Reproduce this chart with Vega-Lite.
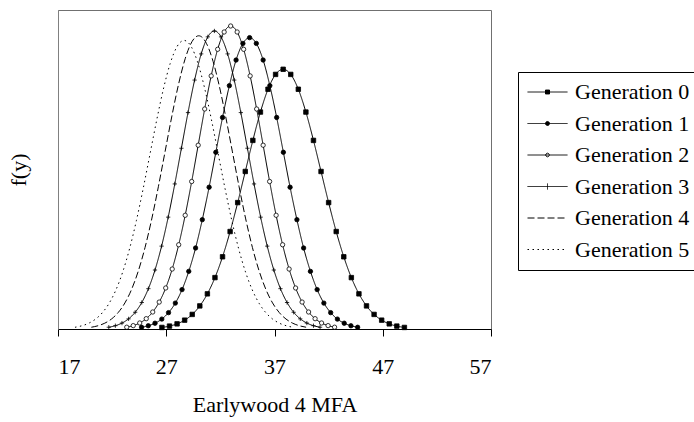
{
  "$schema": "https://vega.github.io/schema/vega-lite/v6.json",
  "width": 433,
  "height": 319,
  "autosize": "none",
  "padding": {"left": 58, "top": 10, "right": 203, "bottom": 93},
  "background": "white",
  "config": {
    "font": "Liberation Serif",
    "view": {"stroke": "#707070", "strokeWidth": 1},
    "axis": {
      "grid": false,
      "labelFont": "Liberation Serif",
      "labelFontSize": 22,
      "labelColor": "black",
      "titleFont": "Liberation Serif",
      "titleFontSize": 22,
      "titleFontWeight": "normal",
      "titleColor": "black"
    }
  },
  "datasets": {
    "curves": [
      {"gen": "Generation 0", "mfa": 26.6, "fy": 0.00068},
      {"gen": "Generation 0", "mfa": 27.3, "fy": 0.00127},
      {"gen": "Generation 0", "mfa": 28.0, "fy": 0.00226},
      {"gen": "Generation 0", "mfa": 28.7, "fy": 0.00388},
      {"gen": "Generation 0", "mfa": 29.4, "fy": 0.0064},
      {"gen": "Generation 0", "mfa": 30.1, "fy": 0.01014},
      {"gen": "Generation 0", "mfa": 30.8, "fy": 0.01543},
      {"gen": "Generation 0", "mfa": 31.5, "fy": 0.02256},
      {"gen": "Generation 0", "mfa": 32.2, "fy": 0.03169},
      {"gen": "Generation 0", "mfa": 32.9, "fy": 0.04278},
      {"gen": "Generation 0", "mfa": 33.6, "fy": 0.05548},
      {"gen": "Generation 0", "mfa": 34.3, "fy": 0.06913},
      {"gen": "Generation 0", "mfa": 35.0, "fy": 0.08277},
      {"gen": "Generation 0", "mfa": 35.7, "fy": 0.09521},
      {"gen": "Generation 0", "mfa": 36.4, "fy": 0.10522},
      {"gen": "Generation 0", "mfa": 37.1, "fy": 0.11173},
      {"gen": "Generation 0", "mfa": 37.8, "fy": 0.11398},
      {"gen": "Generation 0", "mfa": 38.5, "fy": 0.11173},
      {"gen": "Generation 0", "mfa": 39.2, "fy": 0.10522},
      {"gen": "Generation 0", "mfa": 39.9, "fy": 0.09521},
      {"gen": "Generation 0", "mfa": 40.6, "fy": 0.08277},
      {"gen": "Generation 0", "mfa": 41.3, "fy": 0.06913},
      {"gen": "Generation 0", "mfa": 42.0, "fy": 0.05548},
      {"gen": "Generation 0", "mfa": 42.7, "fy": 0.04278},
      {"gen": "Generation 0", "mfa": 43.4, "fy": 0.03169},
      {"gen": "Generation 0", "mfa": 44.1, "fy": 0.02256},
      {"gen": "Generation 0", "mfa": 44.8, "fy": 0.01543},
      {"gen": "Generation 0", "mfa": 45.5, "fy": 0.01014},
      {"gen": "Generation 0", "mfa": 46.2, "fy": 0.0064},
      {"gen": "Generation 0", "mfa": 46.9, "fy": 0.00388},
      {"gen": "Generation 0", "mfa": 47.6, "fy": 0.00226},
      {"gen": "Generation 0", "mfa": 48.3, "fy": 0.00127},
      {"gen": "Generation 0", "mfa": 49.0, "fy": 0.00068},

      {"gen": "Generation 1", "mfa": 24.72, "fy": 0.00076},
      {"gen": "Generation 1", "mfa": 25.34, "fy": 0.00142},
      {"gen": "Generation 1", "mfa": 25.96, "fy": 0.00254},
      {"gen": "Generation 1", "mfa": 26.59, "fy": 0.00435},
      {"gen": "Generation 1", "mfa": 27.21, "fy": 0.00718},
      {"gen": "Generation 1", "mfa": 27.84, "fy": 0.01137},
      {"gen": "Generation 1", "mfa": 28.46, "fy": 0.0173},
      {"gen": "Generation 1", "mfa": 29.08, "fy": 0.0253},
      {"gen": "Generation 1", "mfa": 29.71, "fy": 0.03555},
      {"gen": "Generation 1", "mfa": 30.33, "fy": 0.04799},
      {"gen": "Generation 1", "mfa": 30.96, "fy": 0.06224},
      {"gen": "Generation 1", "mfa": 31.58, "fy": 0.07756},
      {"gen": "Generation 1", "mfa": 32.2, "fy": 0.09285},
      {"gen": "Generation 1", "mfa": 32.83, "fy": 0.1068},
      {"gen": "Generation 1", "mfa": 33.45, "fy": 0.11804},
      {"gen": "Generation 1", "mfa": 34.08, "fy": 0.12533},
      {"gen": "Generation 1", "mfa": 34.7, "fy": 0.12787},
      {"gen": "Generation 1", "mfa": 35.32, "fy": 0.12533},
      {"gen": "Generation 1", "mfa": 35.95, "fy": 0.11804},
      {"gen": "Generation 1", "mfa": 36.57, "fy": 0.1068},
      {"gen": "Generation 1", "mfa": 37.2, "fy": 0.09285},
      {"gen": "Generation 1", "mfa": 37.82, "fy": 0.07756},
      {"gen": "Generation 1", "mfa": 38.44, "fy": 0.06224},
      {"gen": "Generation 1", "mfa": 39.07, "fy": 0.04799},
      {"gen": "Generation 1", "mfa": 39.69, "fy": 0.03555},
      {"gen": "Generation 1", "mfa": 40.32, "fy": 0.0253},
      {"gen": "Generation 1", "mfa": 40.94, "fy": 0.0173},
      {"gen": "Generation 1", "mfa": 41.56, "fy": 0.01137},
      {"gen": "Generation 1", "mfa": 42.19, "fy": 0.00718},
      {"gen": "Generation 1", "mfa": 42.81, "fy": 0.00435},
      {"gen": "Generation 1", "mfa": 43.44, "fy": 0.00254},
      {"gen": "Generation 1", "mfa": 44.06, "fy": 0.00142},
      {"gen": "Generation 1", "mfa": 44.68, "fy": 0.00076},

      {"gen": "Generation 2", "mfa": 23.35, "fy": 0.00079},
      {"gen": "Generation 2", "mfa": 23.95, "fy": 0.00148},
      {"gen": "Generation 2", "mfa": 24.55, "fy": 0.00264},
      {"gen": "Generation 2", "mfa": 25.15, "fy": 0.00453},
      {"gen": "Generation 2", "mfa": 25.75, "fy": 0.00746},
      {"gen": "Generation 2", "mfa": 26.35, "fy": 0.01182},
      {"gen": "Generation 2", "mfa": 26.95, "fy": 0.018},
      {"gen": "Generation 2", "mfa": 27.55, "fy": 0.02632},
      {"gen": "Generation 2", "mfa": 28.15, "fy": 0.03697},
      {"gen": "Generation 2", "mfa": 28.75, "fy": 0.04991},
      {"gen": "Generation 2", "mfa": 29.35, "fy": 0.06473},
      {"gen": "Generation 2", "mfa": 29.95, "fy": 0.08066},
      {"gen": "Generation 2", "mfa": 30.55, "fy": 0.09656},
      {"gen": "Generation 2", "mfa": 31.15, "fy": 0.11107},
      {"gen": "Generation 2", "mfa": 31.75, "fy": 0.12276},
      {"gen": "Generation 2", "mfa": 32.35, "fy": 0.13035},
      {"gen": "Generation 2", "mfa": 32.95, "fy": 0.13298},
      {"gen": "Generation 2", "mfa": 33.55, "fy": 0.13035},
      {"gen": "Generation 2", "mfa": 34.15, "fy": 0.12276},
      {"gen": "Generation 2", "mfa": 34.75, "fy": 0.11107},
      {"gen": "Generation 2", "mfa": 35.35, "fy": 0.09656},
      {"gen": "Generation 2", "mfa": 35.95, "fy": 0.08066},
      {"gen": "Generation 2", "mfa": 36.55, "fy": 0.06473},
      {"gen": "Generation 2", "mfa": 37.15, "fy": 0.04991},
      {"gen": "Generation 2", "mfa": 37.75, "fy": 0.03697},
      {"gen": "Generation 2", "mfa": 38.35, "fy": 0.02632},
      {"gen": "Generation 2", "mfa": 38.95, "fy": 0.018},
      {"gen": "Generation 2", "mfa": 39.55, "fy": 0.01182},
      {"gen": "Generation 2", "mfa": 40.15, "fy": 0.00746},
      {"gen": "Generation 2", "mfa": 40.75, "fy": 0.00453},
      {"gen": "Generation 2", "mfa": 41.35, "fy": 0.00264},
      {"gen": "Generation 2", "mfa": 41.95, "fy": 0.00148},
      {"gen": "Generation 2", "mfa": 42.55, "fy": 0.00079},

      {"gen": "Generation 3", "mfa": 21.69, "fy": 0.00078},
      {"gen": "Generation 3", "mfa": 22.3, "fy": 0.00145},
      {"gen": "Generation 3", "mfa": 22.91, "fy": 0.0026},
      {"gen": "Generation 3", "mfa": 23.52, "fy": 0.00445},
      {"gen": "Generation 3", "mfa": 24.13, "fy": 0.00734},
      {"gen": "Generation 3", "mfa": 24.74, "fy": 0.01163},
      {"gen": "Generation 3", "mfa": 25.35, "fy": 0.0177},
      {"gen": "Generation 3", "mfa": 25.96, "fy": 0.02589},
      {"gen": "Generation 3", "mfa": 26.57, "fy": 0.03637},
      {"gen": "Generation 3", "mfa": 27.18, "fy": 0.04909},
      {"gen": "Generation 3", "mfa": 27.79, "fy": 0.06367},
      {"gen": "Generation 3", "mfa": 28.4, "fy": 0.07933},
      {"gen": "Generation 3", "mfa": 29.01, "fy": 0.09498},
      {"gen": "Generation 3", "mfa": 29.62, "fy": 0.10925},
      {"gen": "Generation 3", "mfa": 30.23, "fy": 0.12074},
      {"gen": "Generation 3", "mfa": 30.84, "fy": 0.12821},
      {"gen": "Generation 3", "mfa": 31.45, "fy": 0.1308},
      {"gen": "Generation 3", "mfa": 32.06, "fy": 0.12821},
      {"gen": "Generation 3", "mfa": 32.67, "fy": 0.12074},
      {"gen": "Generation 3", "mfa": 33.28, "fy": 0.10925},
      {"gen": "Generation 3", "mfa": 33.89, "fy": 0.09498},
      {"gen": "Generation 3", "mfa": 34.5, "fy": 0.07933},
      {"gen": "Generation 3", "mfa": 35.11, "fy": 0.06367},
      {"gen": "Generation 3", "mfa": 35.72, "fy": 0.04909},
      {"gen": "Generation 3", "mfa": 36.33, "fy": 0.03637},
      {"gen": "Generation 3", "mfa": 36.94, "fy": 0.02589},
      {"gen": "Generation 3", "mfa": 37.55, "fy": 0.0177},
      {"gen": "Generation 3", "mfa": 38.16, "fy": 0.01163},
      {"gen": "Generation 3", "mfa": 38.77, "fy": 0.00734},
      {"gen": "Generation 3", "mfa": 39.38, "fy": 0.00445},
      {"gen": "Generation 3", "mfa": 39.99, "fy": 0.0026},
      {"gen": "Generation 3", "mfa": 40.6, "fy": 0.00145},
      {"gen": "Generation 3", "mfa": 41.21, "fy": 0.00078},

      {"gen": "Generation 4", "mfa": 20.08, "fy": 0.00077},
      {"gen": "Generation 4", "mfa": 20.7, "fy": 0.00143},
      {"gen": "Generation 4", "mfa": 21.32, "fy": 0.00255},
      {"gen": "Generation 4", "mfa": 21.94, "fy": 0.00438},
      {"gen": "Generation 4", "mfa": 22.56, "fy": 0.00722},
      {"gen": "Generation 4", "mfa": 23.18, "fy": 0.01144},
      {"gen": "Generation 4", "mfa": 23.8, "fy": 0.01742},
      {"gen": "Generation 4", "mfa": 24.42, "fy": 0.02547},
      {"gen": "Generation 4", "mfa": 25.04, "fy": 0.03578},
      {"gen": "Generation 4", "mfa": 25.66, "fy": 0.0483},
      {"gen": "Generation 4", "mfa": 26.28, "fy": 0.06264},
      {"gen": "Generation 4", "mfa": 26.9, "fy": 0.07806},
      {"gen": "Generation 4", "mfa": 27.52, "fy": 0.09345},
      {"gen": "Generation 4", "mfa": 28.14, "fy": 0.10749},
      {"gen": "Generation 4", "mfa": 28.76, "fy": 0.1188},
      {"gen": "Generation 4", "mfa": 29.38, "fy": 0.12614},
      {"gen": "Generation 4", "mfa": 30.0, "fy": 0.12869},
      {"gen": "Generation 4", "mfa": 30.62, "fy": 0.12614},
      {"gen": "Generation 4", "mfa": 31.24, "fy": 0.1188},
      {"gen": "Generation 4", "mfa": 31.86, "fy": 0.10749},
      {"gen": "Generation 4", "mfa": 32.48, "fy": 0.09345},
      {"gen": "Generation 4", "mfa": 33.1, "fy": 0.07806},
      {"gen": "Generation 4", "mfa": 33.72, "fy": 0.06264},
      {"gen": "Generation 4", "mfa": 34.34, "fy": 0.0483},
      {"gen": "Generation 4", "mfa": 34.96, "fy": 0.03578},
      {"gen": "Generation 4", "mfa": 35.58, "fy": 0.02547},
      {"gen": "Generation 4", "mfa": 36.2, "fy": 0.01742},
      {"gen": "Generation 4", "mfa": 36.82, "fy": 0.01144},
      {"gen": "Generation 4", "mfa": 37.44, "fy": 0.00722},
      {"gen": "Generation 4", "mfa": 38.06, "fy": 0.00438},
      {"gen": "Generation 4", "mfa": 38.68, "fy": 0.00255},
      {"gen": "Generation 4", "mfa": 39.3, "fy": 0.00143},
      {"gen": "Generation 4", "mfa": 39.92, "fy": 0.00077},

      {"gen": "Generation 5", "mfa": 18.57, "fy": 0.00076},
      {"gen": "Generation 5", "mfa": 19.2, "fy": 0.00141},
      {"gen": "Generation 5", "mfa": 19.83, "fy": 0.00251},
      {"gen": "Generation 5", "mfa": 20.46, "fy": 0.00431},
      {"gen": "Generation 5", "mfa": 21.09, "fy": 0.00711},
      {"gen": "Generation 5", "mfa": 21.72, "fy": 0.01126},
      {"gen": "Generation 5", "mfa": 22.35, "fy": 0.01714},
      {"gen": "Generation 5", "mfa": 22.98, "fy": 0.02506},
      {"gen": "Generation 5", "mfa": 23.61, "fy": 0.03521},
      {"gen": "Generation 5", "mfa": 24.24, "fy": 0.04753},
      {"gen": "Generation 5", "mfa": 24.87, "fy": 0.06165},
      {"gen": "Generation 5", "mfa": 25.5, "fy": 0.07682},
      {"gen": "Generation 5", "mfa": 26.13, "fy": 0.09197},
      {"gen": "Generation 5", "mfa": 26.76, "fy": 0.10579},
      {"gen": "Generation 5", "mfa": 27.39, "fy": 0.11691},
      {"gen": "Generation 5", "mfa": 28.02, "fy": 0.12414},
      {"gen": "Generation 5", "mfa": 28.65, "fy": 0.12665},
      {"gen": "Generation 5", "mfa": 29.28, "fy": 0.12414},
      {"gen": "Generation 5", "mfa": 29.91, "fy": 0.11691},
      {"gen": "Generation 5", "mfa": 30.54, "fy": 0.10579},
      {"gen": "Generation 5", "mfa": 31.17, "fy": 0.09197},
      {"gen": "Generation 5", "mfa": 31.8, "fy": 0.07682},
      {"gen": "Generation 5", "mfa": 32.43, "fy": 0.06165},
      {"gen": "Generation 5", "mfa": 33.06, "fy": 0.04753},
      {"gen": "Generation 5", "mfa": 33.69, "fy": 0.03521},
      {"gen": "Generation 5", "mfa": 34.32, "fy": 0.02506},
      {"gen": "Generation 5", "mfa": 34.95, "fy": 0.01714},
      {"gen": "Generation 5", "mfa": 35.58, "fy": 0.01126},
      {"gen": "Generation 5", "mfa": 36.21, "fy": 0.00711},
      {"gen": "Generation 5", "mfa": 36.84, "fy": 0.00431},
      {"gen": "Generation 5", "mfa": 37.47, "fy": 0.00251},
      {"gen": "Generation 5", "mfa": 38.1, "fy": 0.00141},
      {"gen": "Generation 5", "mfa": 38.73, "fy": 0.00076}
    ]
  },
  "data": {"name": "curves"},
  "encoding": {
    "x": {
      "field": "mfa",
      "type": "quantitative",
      "scale": {"domain": [17, 57], "nice": false, "zero": false},
      "axis": {
        "orient": "bottom",
        "values": [17, 27, 37, 47, 57],
        "title": "Earlywood 4 MFA",
        "domainColor": "black",
        "tickColor": "black",
        "tickSize": 7,
        "labelPadding": 20,
        "titlePadding": 17
      }
    },
    "y": {
      "field": "fy",
      "type": "quantitative",
      "scale": {"domain": [0, 0.14], "nice": false},
      "axis": {
        "orient": "left",
        "title": "f(y)",
        "ticks": false,
        "labels": false,
        "domainColor": "#808080",
        "titlePadding": 28
      }
    }
  },
  "layer": [
    {
      "mark": {"type": "line", "interpolate": "monotone", "stroke": "black", "strokeWidth": 1},
      "encoding": {
        "strokeDash": {
          "field": "gen",
          "type": "nominal",
          "scale": {
            "domain": ["Generation 0", "Generation 1", "Generation 2", "Generation 3", "Generation 4", "Generation 5"],
            "range": [[1, 0], [1, 0], [1, 0], [1, 0], [7, 3], [1.5, 3.5]]
          },
          "legend": {
            "title": null,
            "orient": "none",
            "legendX": 460,
            "legendY": 62,
            "strokeColor": "black",
            "padding": 9,
            "clipHeight": 22,
            "symbolType": "stroke",
            "symbolSize": 1600,
            "symbolStrokeWidth": 1,
            "symbolStrokeColor": "black",
            "labelFont": "Liberation Serif",
            "labelFontSize": 22,
            "labelColor": "black",
            "labelOffset": 7,
            "labelLimit": 300,
            "rowPadding": 9.5,
            "encode": {
              "symbols": {
                "update": {
                  "shape": {"signal": "datum.value === 'Generation 0' ? 'M-1,0H1M-0.1,-0.1H0.1V0.1H-0.1Z' : datum.value === 'Generation 1' ? 'M-1,0H1M-0.1,0A0.1,0.1,0,1,0,0.1,0A0.1,0.1,0,1,0,-0.1,0Z' : datum.value === 'Generation 2' ? 'M-1,0H1M-0.09,0A0.09,0.09,0,1,0,0.09,0A0.09,0.09,0,1,0,-0.09,0Z' : datum.value === 'Generation 3' ? 'M-1,0H1M0,-0.15V0.15' : 'M-1,0H1'"},
                  "fill": {"signal": "datum.value === 'Generation 0' || datum.value === 'Generation 1' ? 'black' : datum.value === 'Generation 2' ? 'white' : 'transparent'"},
                  "stroke": {"value": "black"}
                }
              }
            }
          }
        }
      }
    },
    {
      "transform": [{"filter": "datum.gen !== 'Generation 4' && datum.gen !== 'Generation 5'"}],
      "mark": {"type": "point", "filled": true, "stroke": "black", "strokeWidth": 0.8, "opacity": 1},
      "encoding": {
        "shape": {
          "field": "gen",
          "type": "nominal",
          "scale": {
            "domain": ["Generation 0", "Generation 1", "Generation 2", "Generation 3"],
            "range": ["square", "circle", "circle", "M-1,0H1M0,-1V1"]
          },
          "legend": null
        },
        "fill": {
          "field": "gen",
          "type": "nominal",
          "scale": {
            "domain": ["Generation 0", "Generation 1", "Generation 2", "Generation 3"],
            "range": ["black", "black", "white", "transparent"]
          },
          "legend": null
        },
        "size": {
          "field": "gen",
          "type": "nominal",
          "scale": {
            "domain": ["Generation 0", "Generation 1", "Generation 2", "Generation 3"],
            "range": [20, 18, 15, 36]
          },
          "legend": null
        }
      }
    }
  ]
}
